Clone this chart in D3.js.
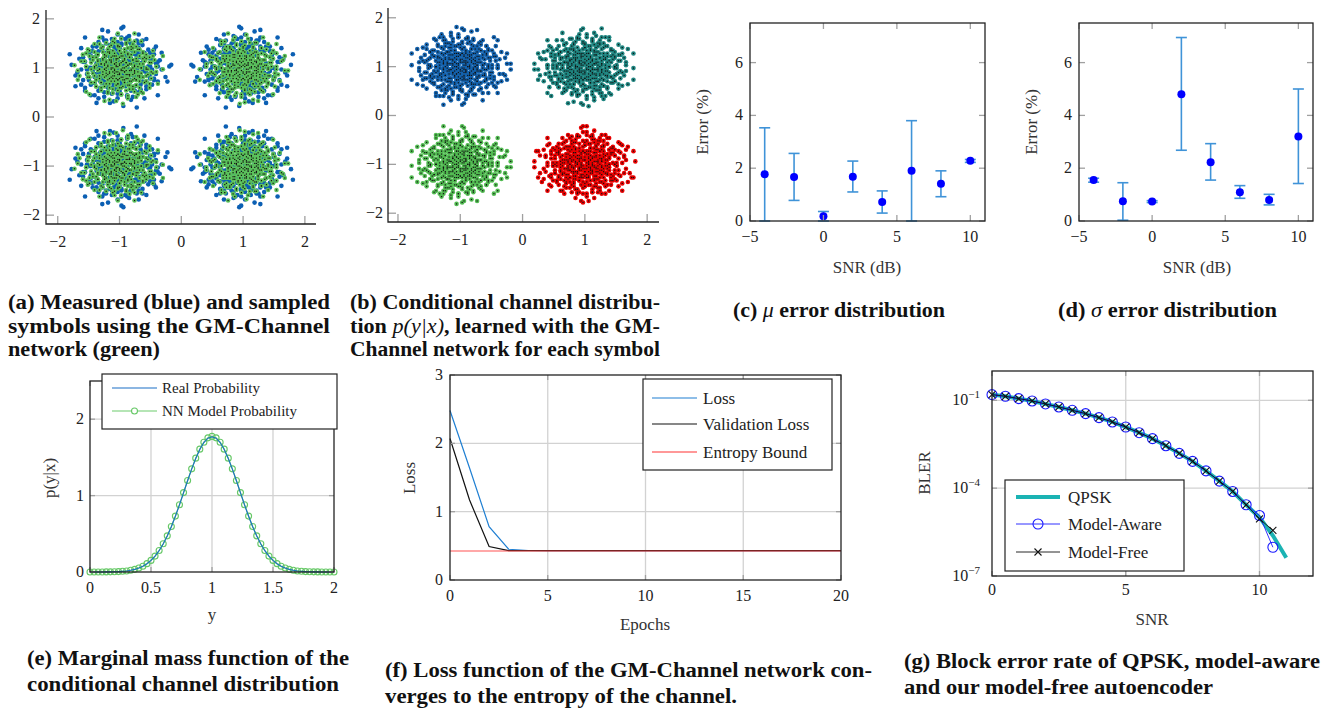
<!DOCTYPE html>
<html>
<head>
<meta charset="utf-8">
<script src="https://cdn.jsdelivr.net/npm/d3@7"></script>
<style>
  body { margin: 0; background: #fff; }
  text { font-family: "Liberation Serif", serif; fill: #222; }
  .tick { font-size: 16px; }
  .title { font-size: 17px; fill: #333; }
  .cap { font-weight: bold; font-size: 20px; fill: #111; }
</style>
</head>
<body>
<svg id="fig" width="1321" height="709"></svg>
<script>

// ---------- data ----------

// QPSK symbols and the spread of the clouds around them (a, b)
const symbolCenters = [[-1, 1], [1, 1], [-1, -1], [1, -1]];
const measuredSpread = 0.31;
const sampledSpread = 0.27;
const learnedSpread = 0.3;

// cloud shape, in units of the spread (estimated from the scatter)
const cloudOffsets = [
  [0.1,-0.3],[0.8,0.4],[-0.5,1.1],[1.3,-0.2],[-1.2,-0.7],[0.3,0.9],[-0.2,-1.4],[2.1,0.5],[-0.9,0.2],[0.6,-0.8],
  [-1.6,1.0],[0.0,0.3],[1.0,1.2],[-0.4,-0.5],[0.4,-1.9],[-2.2,-0.3],[1.7,-1.1],[-0.7,1.6],[0.2,0.1],[-1.0,-1.3],
  [0.9,-0.1],[-0.3,0.6],[1.4,0.8],[-0.6,-0.2],[0.5,1.7],[-1.8,0.4],[0.1,-0.9],[2.4,-0.6],[-0.1,2.2],[-1.3,-1.8],
  [0.7,0.2],[-0.8,-0.9],[1.1,-1.5],[-0.2,0.0],[0.3,-0.4],[-1.4,0.7],[1.9,1.4],[-0.5,-2.3],[0.0,1.3],[0.6,0.6],
  [-1.1,0.1],[1.2,-0.6],[-0.4,0.4],[0.8,-1.2],[-2.6,0.9],[0.4,2.0],[-0.9,-0.4],[1.5,0.1],[-0.1,-0.7],[0.2,0.7],
  [-0.7,1.0],[1.0,-0.3],[-1.5,-1.1],[0.5,-0.1],[-0.3,-1.1],[2.0,-1.8],[-0.6,0.8],[0.9,1.0],[-1.9,-0.8],[0.1,1.6],
  [1.3,0.5],[-0.2,-0.2],[0.6,-1.5],[-1.2,1.4],[0.3,0.3],[-0.8,-1.6],[1.6,-0.4],[-0.4,1.9],[2.7,0.2],[-1.0,0.5],
  [0.0,-0.5],[0.7,1.4],[-1.7,-0.1],[1.1,0.3],[-0.5,-0.8],[0.2,-2.5],[-0.9,1.2],[1.8,0.9],[-0.1,0.9],[0.4,-0.6],
  [-1.3,-0.4],[0.8,0.0],[-0.6,-1.3],[1.2,1.8],[-2.0,1.3],[0.5,0.5],[-0.3,1.4],[1.4,-0.9],[-0.7,-0.1],[0.1,-1.2],
  [-1.1,-2.0],[2.2,1.0],[-0.2,0.5],[0.9,-0.7],[-1.6,0.0],[0.3,1.1],[-0.5,0.2],[1.0,0.7],[-0.8,0.6],[0.6,-0.3],
  [-2.3,-1.2],[1.5,1.2],[-0.4,-1.7],[0.0,0.8],[1.7,-0.1],[-1.0,-0.9],[0.7,-1.9],[-0.1,-0.1],[1.3,1.0],[-1.4,1.1],
  [0.4,0.0],[-0.6,-0.5],[2.5,-0.9],[-0.9,2.0],[0.2,-0.8],[1.1,-1.1],[-1.2,0.3],[0.8,0.9],[-0.3,-0.3],[0.5,-1.0],
  [-1.8,-1.5],[1.6,0.6],[-0.7,0.3],[0.1,2.6],[0.9,0.3],[-1.5,0.8],[0.3,-0.2],[-0.2,-0.9],[1.2,-0.1],[-0.5,1.5],
  [2.0,0.1],[-1.1,-0.6],[0.6,1.2],[-0.4,0.1],[0.0,-1.5],[1.4,-1.4],[-2.1,0.6],[0.7,-0.5],[-0.8,1.8],[0.2,0.4],
  [-1.3,0.0],[1.0,1.6],[-0.6,-1.0],[0.5,0.8],[-0.1,-2.0],[1.8,-0.7],[-0.9,-0.2],[0.3,1.9],[-1.6,-0.6],[0.8,-0.4]
];

// (c), (d) error distributions
const snrDb = [-4, -2, 0, 2, 4, 6, 8, 10];
const muErr = [1.77, 1.67, 0.18, 1.68, 0.72, 1.9, 1.41, 2.28];
const muLow = [0, 0.78, 0, 1.1, 0.3, 0, 0.92, 2.22];
const muHigh = [3.53, 2.56, 0.36, 2.27, 1.14, 3.8, 1.9, 2.33];
const sigmaErr = [1.55, 0.75, 0.74, 4.8, 2.23, 1.09, 0.8, 3.2];
const sigmaLow = [1.47, 0.03, 0.7, 2.68, 1.55, 0.86, 0.61, 1.42];
const sigmaHigh = [1.62, 1.45, 0.77, 6.95, 2.93, 1.34, 1.01, 5.0];

// (e) marginal mass function, y from 0 to 2 in steps of 1/30
const probY = d3.range(61).map(i => i / 30);
const realProb = [0,0,0,0,0.001,0.002,0.003,0.005,0.009,0.014,0.022,0.034,0.051,0.075,0.108,0.151,
  0.207,0.279,0.367,0.471,0.593,0.730,0.879,1.036,1.194,1.347,1.486,1.604,1.694,1.751,1.770,
  1.751,1.694,1.604,1.486,1.347,1.194,1.036,0.879,0.730,0.593,0.471,0.367,0.279,0.207,0.151,
  0.108,0.075,0.051,0.034,0.022,0.014,0.009,0.005,0.003,0.002,0.001,0,0,0,0];
const nnProb = [0,0,0,0,0.001,0.002,0.003,0.005,0.009,0.014,0.023,0.035,0.052,0.076,0.109,0.152,
  0.208,0.281,0.369,0.473,0.595,0.732,0.881,1.039,1.197,1.350,1.490,1.608,1.699,1.756,1.775,
  1.756,1.699,1.608,1.490,1.350,1.197,1.039,0.881,0.732,0.595,0.473,0.369,0.281,0.208,0.152,
  0.109,0.076,0.052,0.035,0.023,0.014,0.009,0.005,0.003,0.002,0.001,0,0,0,0];

// (f) training curves
const epochs = d3.range(21);
const trainLoss = [2.48,1.64,0.78,0.45,0.432,0.43,0.43,0.43,0.43,0.43,0.43,0.43,0.43,0.43,0.43,0.43,0.43,0.43,0.43,0.43,0.43];
const validLoss = [2.07,1.17,0.49,0.43,0.43,0.43,0.43,0.43,0.43,0.43,0.43,0.43,0.43,0.43,0.43,0.43,0.43,0.43,0.43,0.43,0.43];
const entropyBound = 0.425;

// (g) block error rate
const qpskSnr = [0,0.5,1,1.5,2,2.5,3,3.5,4,4.5,5,5.5,6,6.5,7,7.5,8,8.5,9,9.5,10,10.5,11];
const qpskBler = [0.156,0.137,0.114,0.0948,0.075,0.0592,0.0455,0.035,0.0255,0.0182,0.0122,0.00783,
  0.00489,0.00281,0.00154,8.2e-4,3.9e-4,1.74e-4,7.7e-5,2.7e-5,1.0e-5,2.4e-6,4.2e-7];
const aeSnr = [0,0.5,1,1.5,2,2.5,3,3.5,4,4.5,5,5.5,6,6.5,7,7.5,8,8.5,9,9.5,10,10.5];
const awareBler = [0.156,0.137,0.114,0.0948,0.075,0.0592,0.0455,0.035,0.0255,0.0182,0.0122,0.00783,
  0.00489,0.00281,0.00154,8.2e-4,3.9e-4,1.74e-4,7.7e-5,2.7e-5,1.16e-5,9.6e-7];
const freeBler = [0.156,0.137,0.114,0.0948,0.075,0.0592,0.0455,0.035,0.0255,0.0182,0.0122,0.00783,
  0.00489,0.00281,0.00154,8.2e-4,3.9e-4,1.74e-4,7.7e-5,2.7e-5,9.0e-6,3.6e-6];


// ---------- helpers ----------

const svg = d3.select('#fig');
svg.append('rect').attr('width', 1321).attr('height', 709).attr('fill', '#fff');

const fmt = v => (v < 0 ? '\u2212' : '') + Math.abs(v);

// box = [left, right, top, bottom]
function panel(box, xd, yd, log) {
  const x = d3.scaleLinear().domain(xd).range([box[0], box[1]]);
  const y = (log ? d3.scaleLog() : d3.scaleLinear()).domain(yd).range([box[3], box[2]]);
  return { x, y, g: svg.append('g') };
}

function grid(p, xt, yt) {
  const [l, r] = p.x.range(), [b, t] = p.y.range();
  const g = p.g.append('g').attr('stroke', '#d2d2d2').attr('stroke-width', 1.3);
  g.selectAll('.gx').data(xt).join('line')
    .attr('x1', d => p.x(d)).attr('x2', d => p.x(d)).attr('y1', t).attr('y2', b);
  g.selectAll('.gy').data(yt).join('line')
    .attr('x1', l).attr('x2', r).attr('y1', d => p.y(d)).attr('y2', d => p.y(d));
}

function frame(p, xt, yt, opt) {
  const [l, r] = p.x.range(), [b, t] = p.y.range();
  const tl = opt.tick || 5;
  const f = p.g.append('g');
  const tk = f.append('g').attr('stroke', '#a0a0a0').attr('stroke-width', 1.3);
  tk.selectAll('.xb').data(xt).join('line')
    .attr('x1', d => p.x(d)).attr('x2', d => p.x(d)).attr('y1', b).attr('y2', b - tl);
  tk.selectAll('.yl').data(yt).join('line')
    .attr('y1', d => p.y(d)).attr('y2', d => p.y(d)).attr('x1', l).attr('x2', l + tl);
  if (opt.box) {
    tk.selectAll('.xt').data(xt).join('line')
      .attr('x1', d => p.x(d)).attr('x2', d => p.x(d)).attr('y1', t).attr('y2', t + tl);
    tk.selectAll('.yr').data(yt).join('line')
      .attr('y1', d => p.y(d)).attr('y2', d => p.y(d)).attr('x1', r).attr('x2', r - tl);
    f.append('rect').attr('x', l).attr('y', t).attr('width', r - l).attr('height', b - t)
      .attr('fill', 'none').attr('stroke', '#222').attr('stroke-width', 1.3);
  } else {
    f.append('path').attr('d', `M${l},${t}V${b}H${r}`)
      .attr('fill', 'none').attr('stroke', '#222').attr('stroke-width', 1.3);
  }
  f.selectAll('.xlab').data(xt).join('text').attr('class', 'tick')
    .attr('x', d => p.x(d)).attr('y', b + opt.xGap).attr('text-anchor', 'middle')
    .text(fmt);
  const yl = f.selectAll('.ylab').data(yt).join('text').attr('class', 'tick')
    .attr('x', l - opt.yGap).attr('y', d => p.y(d) + 5).attr('text-anchor', 'end');
  if (opt.yPow) {
    yl.append('tspan').text('10');
    yl.append('tspan').attr('dy', -7).attr('font-size', 11)
      .text(d => '\u2212' + Math.round(-Math.log10(d)));
  } else {
    yl.text(fmt);
  }
}

function titles(xt, yt) {
  svg.append('text').attr('class', 'title').attr('x', xt[0]).attr('y', xt[1])
    .attr('text-anchor', 'middle').text(xt[2]);
  svg.append('text').attr('class', 'title').attr('text-anchor', 'middle')
    .attr('transform', `translate(${yt[0]},${yt[1]}) rotate(-90)`).text(yt[2]);
}

const symmetries = [[1,0,0,1],[-1,0,0,1],[1,0,0,-1],[-1,0,0,-1],[0,1,1,0],[0,-1,1,0],[0,1,-1,0],[0,-1,-1,0]];

function cloud(p, center, spread, syms, color, dotted) {
  const pts = [];
  syms.forEach(s => {
    const m = symmetries[s];
    cloudOffsets.forEach(o => pts.push([
      center[0] + spread * (m[0] * o[0] + m[1] * o[1]),
      center[1] + spread * (m[2] * o[0] + m[3] * o[1])
    ]));
  });
  const g = p.g.append('g');
  g.selectAll('circle').data(pts).join('circle')
    .attr('cx', d => p.x(d[0])).attr('cy', d => p.y(d[1])).attr('r', 2.3).attr('fill', color);
  if (dotted) {
    g.selectAll('rect').data(pts).join('rect')
      .attr('x', d => p.x(d[0]) - 0.6).attr('y', d => p.y(d[1]) - 0.6)
      .attr('width', 1.2).attr('height', 1.2).attr('fill', '#111');
  }
}

function legendBox(box, items, fontSize) {
  const g = svg.append('g');
  g.append('rect').attr('x', box[0]).attr('y', box[1]).attr('width', box[2] - box[0])
    .attr('height', box[3] - box[1]).attr('fill', '#fff').attr('stroke', '#222').attr('stroke-width', 1.2);
  items.forEach(it => {
    it.draw(g, box[4], box[5], it.y);
    g.append('text').attr('x', box[6]).attr('y', it.y + fontSize * 0.33)
      .attr('font-size', fontSize).text(it.label);
  });
}

function caption(lines) {
  lines.forEach(ln => {
    const t = svg.append('text').attr('class', 'cap').attr('x', ln.x).attr('y', ln.y)
      .attr('textLength', ln.w).attr('lengthAdjust', 'spacingAndGlyphs');
    ln.parts.forEach(pt => {
      const s = t.append('tspan').text(pt[0]);
      if (pt[1]) s.attr('font-style', 'italic').attr('font-weight', 'normal');
    });
  });
}


// ---------- (a) measured vs sampled symbols ----------

const pa = panel([46, 316, 10, 224], [-2.19, 2.18], [-2.18, 2.18]);
symbolCenters.forEach((c, k) => cloud(pa, c, measuredSpread, [k, k + 4], '#0b5fb3', false));
symbolCenters.forEach((c, k) => cloud(pa, c, sampledSpread, [(k + 1) % 4, ((k + 2) % 4) + 4], '#5cc25c', true));
frame(pa, [-2, -1, 0, 1, 2], [-2, -1, 0, 1, 2], { tick: 8, xGap: 23, yGap: 6 });

// ---------- (b) learned conditional distribution ----------

const learnedColors = ['#1462ad', '#1f8580', '#52bb52', '#e80000'];
const pb = panel([388, 659, 8, 222], [-2.16, 2.19], [-2.18, 2.2]);
symbolCenters.forEach((c, k) => cloud(pb, c, learnedSpread, [k, (k + 5) % 8, (k + 2) % 4], learnedColors[k], true));
frame(pb, [-2, -1, 0, 1, 2], [-2, -1, 0, 1, 2], { tick: 8, xGap: 23, yGap: 5 });

// ---------- (c), (d) error bars ----------

function errorPanel(box, vals, lo, hi) {
  const p = panel(box, [-5, 11], [0, 7.5]);
  const rows = snrDb.map((s, i) => ({ s, v: vals[i], lo: lo[i], hi: hi[i] }));
  const eb = p.g.append('g').attr('stroke', '#3f93d8').attr('stroke-width', 1.6);
  eb.selectAll('.v').data(rows).join('line')
    .attr('x1', d => p.x(d.s)).attr('x2', d => p.x(d.s)).attr('y1', d => p.y(d.lo)).attr('y2', d => p.y(d.hi));
  ['lo', 'hi'].forEach(k => eb.selectAll('.' + k).data(rows).join('line')
    .attr('x1', d => p.x(d.s) - 5.5).attr('x2', d => p.x(d.s) + 5.5)
    .attr('y1', d => p.y(d[k])).attr('y2', d => p.y(d[k])));
  p.g.selectAll('.pt').data(rows).join('circle')
    .attr('cx', d => p.x(d.s)).attr('cy', d => p.y(d.v)).attr('r', 4).attr('fill', '#0000ff');
  frame(p, [-5, 0, 5, 10], [0, 2, 4, 6], { box: true, tick: 6, xGap: 21, yGap: 7 });
  return p;
}
errorPanel([750, 985, 23, 221], muErr, muLow, muHigh);
titles([867, 273, 'SNR (dB)'], [708, 122, 'Error (%)']);
errorPanel([1079, 1313, 23, 221], sigmaErr, sigmaLow, sigmaHigh);
titles([1197, 273, 'SNR (dB)'], [1037, 122, 'Error (%)']);

// ---------- (e) marginal mass function ----------

const pe = panel([90, 334, 381, 572], [0, 2], [0, 2.5]);
grid(pe, [0.5, 1, 1.5], [1, 2]);
const lineE = d3.line().x((d, i) => pe.x(probY[i])).y(d => pe.y(d));
pe.g.append('path').attr('d', lineE(nnProb)).attr('fill', 'none')
  .attr('stroke', '#6ccc6c').attr('stroke-width', 1.2);
pe.g.selectAll('.nn').data(nnProb).join('circle')
  .attr('cx', (d, i) => pe.x(probY[i])).attr('cy', d => pe.y(d)).attr('r', 3)
  .attr('fill', 'none').attr('stroke', '#66c866').attr('stroke-width', 1.1);
pe.g.append('path').attr('d', lineE(realProb)).attr('fill', 'none')
  .attr('stroke', '#1a6fc6').attr('stroke-width', 1.1);
frame(pe, [0, 0.5, 1, 1.5, 2], [0, 1, 2], { box: true, tick: 5, xGap: 21, yGap: 6 });
titles([212, 620, 'y'], [55, 478, 'p(y|x)']);
legendBox([102, 374, 337, 429, 112, 157, 162], [
  { label: 'Real Probability', y: 388,
    draw: (g, x1, x2, y) => g.append('line').attr('x1', x1).attr('x2', x2).attr('y1', y).attr('y2', y)
      .attr('stroke', '#1a6fc6').attr('stroke-width', 1.2) },
  { label: 'NN Model Probability', y: 411,
    draw: (g, x1, x2, y) => {
      g.append('line').attr('x1', x1).attr('x2', x2).attr('y1', y).attr('y2', y)
        .attr('stroke', '#6ccc6c').attr('stroke-width', 1.2);
      g.append('circle').attr('cx', (x1 + x2) / 2).attr('cy', y).attr('r', 3)
        .attr('fill', '#fff').attr('stroke', '#66c866').attr('stroke-width', 1.1);
    } }
], 15);

// ---------- (f) loss curves ----------

const pf = panel([450, 841, 375, 580], [0, 20], [0, 3]);
grid(pf, [5, 10, 15], [1, 2]);
const lineF = d3.line().x((d, i) => pf.x(epochs[i])).y(d => pf.y(d));
pf.g.append('path').attr('d', lineF(trainLoss)).attr('fill', 'none')
  .attr('stroke', '#1f7fd2').attr('stroke-width', 1.2);
pf.g.append('path').attr('d', lineF(validLoss)).attr('fill', 'none')
  .attr('stroke', '#111').attr('stroke-width', 1.2);
pf.g.append('line').attr('x1', pf.x(0)).attr('x2', pf.x(20))
  .attr('y1', pf.y(entropyBound)).attr('y2', pf.y(entropyBound))
  .attr('stroke', '#ff3c3c').attr('stroke-opacity', 0.6).attr('stroke-width', 1.6);
frame(pf, [0, 5, 10, 15, 20], [0, 1, 2, 3], { box: true, tick: 5, xGap: 21, yGap: 7 });
titles([645, 630, 'Epochs'], [415, 478, 'Loss']);
const simpleLine = (c, w, o) => (g, x1, x2, y) => g.append('line')
  .attr('x1', x1).attr('x2', x2).attr('y1', y).attr('y2', y)
  .attr('stroke', c).attr('stroke-width', w).attr('stroke-opacity', o || 1);
legendBox([643, 379, 832, 470, 652, 697, 703], [
  { label: 'Loss', y: 398, draw: simpleLine('#1f7fd2', 1.2) },
  { label: 'Validation Loss', y: 424, draw: simpleLine('#111', 1.2) },
  { label: 'Entropy Bound', y: 452, draw: simpleLine('#ff3c3c', 1.6, 0.7) }
], 17);

// ---------- (g) block error rate ----------

const pg = panel([992, 1313, 371, 576], [0, 12], [1e-7, 1], true);
grid(pg, [5, 10], [1e-1, 1e-4]);
const lineG = snr => d3.line().x((d, i) => pg.x(snr[i])).y(d => pg.y(d));
pg.g.append('path').attr('d', lineG(qpskSnr)(qpskBler)).attr('fill', 'none')
  .attr('stroke', '#1bb3b3').attr('stroke-width', 4);
pg.g.append('path').attr('d', lineG(aeSnr)(awareBler)).attr('fill', 'none')
  .attr('stroke', '#1a1aff').attr('stroke-width', 0.9);
pg.g.selectAll('.aw').data(awareBler).join('circle')
  .attr('cx', (d, i) => pg.x(aeSnr[i])).attr('cy', d => pg.y(d)).attr('r', 5)
  .attr('fill', 'none').attr('stroke', '#1a1aff').attr('stroke-width', 1.1);
pg.g.append('path').attr('d', lineG(aeSnr)(freeBler)).attr('fill', 'none')
  .attr('stroke', '#111').attr('stroke-width', 0.9);
const cross = (cx, cy) => `M${cx - 3.5},${cy - 3.5}L${cx + 3.5},${cy + 3.5}M${cx - 3.5},${cy + 3.5}L${cx + 3.5},${cy - 3.5}`;
pg.g.selectAll('.fr').data(freeBler).join('path')
  .attr('d', (d, i) => cross(pg.x(aeSnr[i]), pg.y(d)))
  .attr('stroke', '#111').attr('stroke-width', 1.1);
frame(pg, [0, 5, 10], [1e-7, 1e-4, 1e-1], { box: true, tick: 5, xGap: 19, yGap: 12, yPow: true });
titles([1152, 625, 'SNR'], [930, 473, 'BLER']);
legendBox([1005, 480, 1184, 571, 1016, 1060, 1068], [
  { label: 'QPSK', y: 497, draw: simpleLine('#1bb3b3', 4) },
  { label: 'Model-Aware', y: 524,
    draw: (g, x1, x2, y) => {
      simpleLine('#1a1aff', 0.9)(g, x1, x2, y);
      g.append('circle').attr('cx', (x1 + x2) / 2).attr('cy', y).attr('r', 5)
        .attr('fill', 'none').attr('stroke', '#1a1aff').attr('stroke-width', 1.1);
    } },
  { label: 'Model-Free', y: 552,
    draw: (g, x1, x2, y) => {
      simpleLine('#111', 0.9)(g, x1, x2, y);
      g.append('path').attr('d', cross((x1 + x2) / 2, y)).attr('stroke', '#111').attr('stroke-width', 1.1);
    } }
], 17);

// ---------- captions ----------

caption([
  { x: 8, y: 309, w: 322, parts: [['(a) Measured (blue) and sampled']] },
  { x: 8, y: 333, w: 322, parts: [['symbols using the GM-Channel']] },
  { x: 8, y: 356, w: 152, parts: [['network (green)']] },
  { x: 350, y: 309, w: 310, parts: [['(b) Conditional channel distribu-']] },
  { x: 350, y: 333, w: 310, parts: [['tion '], ['p(y|x)', true], [', learned with the GM-']] },
  { x: 350, y: 356, w: 310, parts: [['Channel network for each symbol']] },
  { x: 733, y: 317, w: 212, parts: [['(c) '], ['\u03bc', true], [' error distribution']] },
  { x: 1058, y: 317, w: 219, parts: [['(d) '], ['\u03c3', true], [' error distribution']] },
  { x: 27, y: 665, w: 322, parts: [['(e) Marginal mass function of the']] },
  { x: 27, y: 691, w: 312, parts: [['conditional channel distribution']] },
  { x: 385, y: 677, w: 487, parts: [['(f) Loss function of the GM-Channel network con-']] },
  { x: 385, y: 703, w: 352, parts: [['verges to the entropy of the channel.']] },
  { x: 904, y: 668, w: 416, parts: [['(g) Block error rate of QPSK, model-aware']] },
  { x: 904, y: 694, w: 309, parts: [['and our model-free autoencoder']] }
]);

</script>
</body>
</html>
